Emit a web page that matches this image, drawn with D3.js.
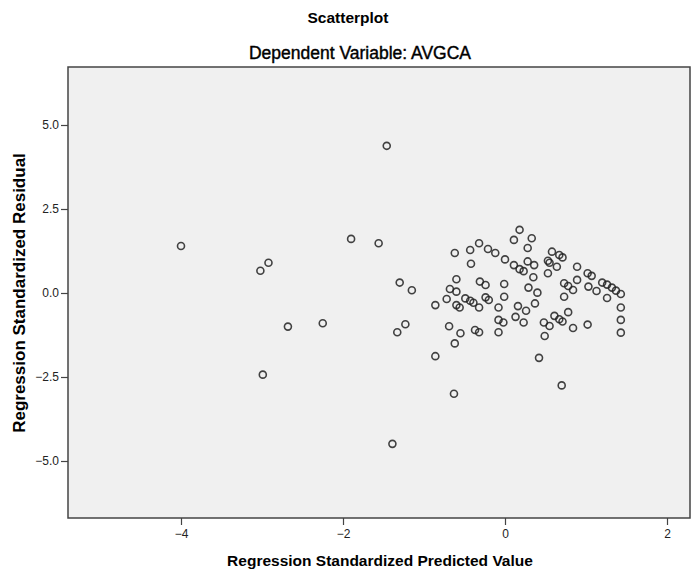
<!DOCTYPE html>
<head>
    <meta charset="utf-8">
    <script src="https://d3js.org/d3.v7.min.js"></script>
    <style>
        html, body { padding: 0; margin: 0; background: #fff; }
        svg { display: block; font-family: Arial, "Liberation Sans", sans-serif; }
        .axis text { font-size: 12px; fill: #222; }
        .axis path, .axis line { stroke: #444; stroke-width: 1.2; }
    </style>
</head>

<body>
<svg width="691" height="576"></svg>
<script>
    // standardized predicted values (x) and residuals (y)
    var predicted = [
        -4.00, -3.02, -2.92, -2.68, -2.99, -2.25, -1.90, -1.56, -1.46, -1.39,
        -1.30, -1.15, -1.23, -1.33, -0.86, -0.86,
        0.18, 0.11, 0.33, 0.28, -0.62, -0.43, -0.32, -0.21, -0.12, -0.42,
        0.00, 0.11, 0.18, 0.23, 0.28, 0.36, 0.35, 0.58, 0.67, 0.71,
        0.53, 0.55, 0.64, 0.53, 0.89, 1.02, 1.07, 0.89, 0.73, 0.78,
        0.84, 1.03, 1.13, 1.20, 1.26, 1.32, 1.37, 1.43, 1.26, 1.43,
        0.73, -0.60, -0.68, -0.60, -0.72, -0.60, -0.56, -0.49, -0.43, -0.39,
        -0.32, -0.31, -0.24, -0.01, -0.24, -0.20, -0.01, -0.08, 0.29, 0.40,
        0.37, 0.16, 0.26, 0.13, 0.61, 0.67, 0.71, 0.78, -0.69, -0.55,
        -0.62, -0.37, -0.32, -0.08, -0.02, -0.08, 0.23, 0.48, 0.55, 0.49,
        0.84, 1.02, 1.43, 1.43, 0.42, 0.70, -0.63
    ];
    var residual = [
        1.40, 0.66, 0.90, -1.00, -2.43, -0.90, 1.61, 1.48, 4.38, -4.49,
        0.31, 0.08, -0.93, -1.17, -0.36, -1.88,
        1.88, 1.58, 1.63, 1.34, 1.19, 1.28, 1.48, 1.31, 1.19, 0.87,
        1.00, 0.83, 0.71, 0.65, 0.94, 0.83, 0.47, 1.23, 1.13, 1.06,
        0.96, 0.90, 0.78, 0.59, 0.78, 0.59, 0.51, 0.39, 0.29, 0.21,
        0.09, 0.19, 0.06, 0.31, 0.25, 0.16, 0.07, -0.03, -0.15, -0.43,
        -0.11, 0.41, 0.12, 0.04, -0.18, -0.36, -0.43, -0.16, -0.23, -0.29,
        -0.43, 0.34, 0.24, 0.27, -0.13, -0.21, -0.11, -0.43, 0.16, 0.01,
        -0.31, -0.39, -0.53, -0.71, -0.68, -0.78, -0.85, -0.57, -0.99, -1.20,
        -1.50, -1.10, -1.17, -0.80, -0.88, -1.17, -0.88, -0.88, -0.98, -1.28,
        -1.04, -0.94, -0.80, -1.18, -1.93, -2.75, -3.00
    ];
    var xTicks = [-4, -2, 0, 2];
    var yTicks = [-5, -2.5, 0, 2.5, 5];

    var svg = d3.select("svg");

    var x = d3.scaleLinear().domain([-4, 2]).range([181, 667]);
    var y = d3.scaleLinear().domain([-5, 5]).range([461, 125]);

    var frame = {left: 68, right: 690, top: 67, bottom: 518};

    svg.append("text")
        .attr("x", 348).attr("y", 23)
        .attr("text-anchor", "middle")
        .style("font-size", "15.5px").style("font-weight", "bold")
        .text("Scatterplot");

    svg.append("text")
        .attr("x", 360).attr("y", 59)
        .attr("text-anchor", "middle")
        .style("font-size", "17.5px")
        .style("fill", "#000")
        .style("stroke", "#000").style("stroke-width", 0.4)
        .text("Dependent Variable: AVGCA");

    svg.append("rect")
        .attr("x", frame.left).attr("y", frame.top)
        .attr("width", frame.right - frame.left).attr("height", frame.bottom - frame.top)
        .attr("fill", "#f0f0f0")
        .attr("stroke", "#444")
        .attr("stroke-width", 1.5);

    svg.append("g")
        .attr("class", "axis")
        .attr("transform", "translate(0," + frame.bottom + ")")
        .call(d3.axisBottom(x).tickValues(xTicks).tickSize(7).tickPadding(4).tickFormat(d3.format("d")))
        .call(function(g) { g.select(".domain").remove(); });

    svg.append("g")
        .attr("class", "axis")
        .attr("transform", "translate(" + frame.left + ",0)")
        .call(d3.axisLeft(y).tickValues(yTicks).tickSize(7).tickPadding(2).tickFormat(d3.format(".1f")))
        .call(function(g) { g.select(".domain").remove(); });

    svg.append("text")
        .attr("x", 380).attr("y", 566)
        .attr("text-anchor", "middle")
        .style("font-size", "15.5px").style("font-weight", "bold")
        .text("Regression Standardized Predicted Value");

    svg.append("text")
        .attr("transform", "translate(25," + 293 + ") rotate(-90)")
        .attr("text-anchor", "middle")
        .style("font-size", "17px").style("font-weight", "bold")
        .text("Regression Standardized Residual");

    svg.append("g")
        .selectAll("circle")
        .data(predicted.map(function(d, i) { return [d, residual[i]]; }))
        .enter()
        .append("circle")
        .attr("cx", function(d) { return x(d[0]); })
        .attr("cy", function(d) { return y(d[1]); })
        .attr("r", 3.5)
        .attr("fill", "none")
        .attr("stroke", "#222")
        .attr("stroke-opacity", 0.85)
        .attr("stroke-width", 1.6);
</script>
</body>
